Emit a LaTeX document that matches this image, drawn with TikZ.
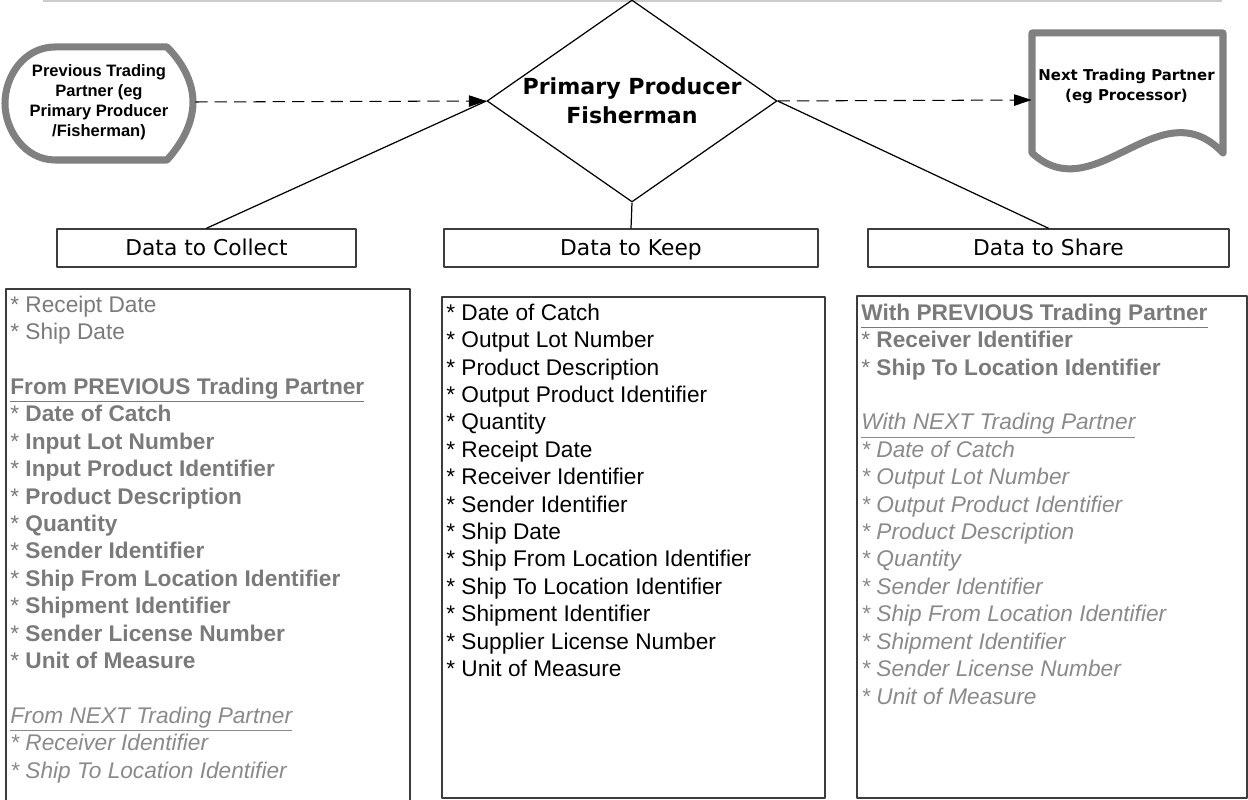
\documentclass[tikz,border=0pt]{standalone}
\usepackage{fontspec}
\setmainfont{Liberation Sans}
\newfontfamily\visiofont{DejaVu Sans}
\usetikzlibrary{shapes.geometric,arrows.meta}
\definecolor{framegray}{RGB}{128,128,128}
\definecolor{listgray}{RGB}{122,122,122}
\definecolor{lightlist}{RGB}{138,138,138}
\definecolor{boxline}{RGB}{60,60,60}
\newcommand{\listhead}[1]{\underline{#1}}

\begin{document}
\begin{tikzpicture}[inner sep=0pt, line join=round]
	\tikzstyle {Frame}  = [draw=framegray, line width=4pt]
	\tikzstyle {Head}   = [shape=rectangle, draw=boxline, line width=0.8pt, minimum height=0.76cm, text height=9.5pt, text depth=1.5pt, font=\visiofont\fontsize{12.4}{14}\selectfont]
	\tikzstyle {List}   = [shape=rectangle, draw=boxline, line width=0.9pt, anchor=north west]
	\tikzstyle {Items}  = [anchor=north west, align=left, font=\fontsize{12.9}{15.6}\selectfont]
	\tikzstyle {Flow}   = [dash pattern=on 7pt off 4pt, line width=0.6pt, -{Triangle[length=10pt,width=6.5pt]}]
	\tikzstyle {Link}   = [line width=0.7pt]

	\useasboundingbox (0,0) rectangle (24.96,16);
	\draw[draw=black!20, line width=0.6pt] (0.86,15.98) -- (24.44,15.98);

	% Primary producer
	\node[shape=diamond, aspect=1.44, draw, Link, minimum width=5.8cm, minimum height=4.04cm, align=center,
	      font=\visiofont\bfseries\fontsize{12.6}{16.5}\selectfont] (Producer) at (12.64,13.98) {Primary Producer\\Fisherman};

	% previous trading partner
	\draw[Frame] (1.1,15.06) -- (3.34,15.06) .. controls (3.7,14.7) and (3.86,14.3) .. (3.86,13.96)
	      .. controls (3.86,13.6) and (3.7,13.2) .. (3.34,12.8) -- (1.1,12.8)
	      .. controls (0.5,12.8) and (0.1,13.4) .. (0.1,13.93) .. controls (0.1,14.5) and (0.5,15.06) .. cycle;
	\node[minimum width=3.84cm, align=center, font=\bfseries\fontsize{9.4}{11.4}\selectfont] (Partner-prev) at (1.98,13.96)
	      {Previous Trading\\Partner (eg\\Primary Producer\\/Fisherman)};

	% next trading partner
	\draw[Frame] (20.64,12.94) -- (20.64,15.34) -- (24.46,15.34) -- (24.46,12.94)
	      .. controls (23.2,14.28) and (21.9,11.78) .. (20.64,12.94) -- cycle;
	\node[minimum width=3.82cm, minimum height=2.7cm] (Partner-next) at (22.55,14.0) {};
	\node[align=center, font=\visiofont\bfseries\fontsize{8.5}{11.4}\selectfont] (next-text) at (22.53,14.28)
	      {Next Trading Partner\\(eg Processor)};

	\draw[Flow] (Partner-prev.east) -- (Producer.west);
	\draw[Flow] (Producer.east) -- (Partner-next.west);

	% headers
	\node[Head, minimum width=5.98cm] (Head-1) at (4.13,11.04) {Data to Collect};
	\node[Head, minimum width=7.48cm] (Head-2) at (12.62,11.04) {Data to Keep};
	\node[Head, minimum width=7.22cm] (Head-3) at (20.97,11.04) {Data to Share};

	\draw[Link] (Producer.west) -- (Head-1.north);
	\draw[Link] (Producer.south) -- (Head-2.north);
	\draw[Link] (Producer.east) -- (Head-3.north);

	% lists
	\node[List, minimum width=8.08cm, minimum height=10.4cm] (List-1) at (0.1,10.24) {};
	\node[List, minimum width=7.66cm, minimum height=10.02cm] (List-2) at (8.82,10.08) {};
	\node[List, minimum width=7.8cm, minimum height=10.04cm] (List-3) at (17.12,10.1) {};

	\node[Items, text=listgray] (Items-1) at ([xshift=0.1cm, yshift=-0.15cm]List-1.north west) {%
		* Receipt Date\\
		* Ship Date\\
		\mbox{}\\
		\textbf{\listhead{From PREVIOUS Trading Partner}}\\
		* \textbf{Date of Catch}\\
		* \textbf{Input Lot Number}\\
		* \textbf{Input Product Identifier}\\
		* \textbf{Product Description}\\
		* \textbf{Quantity}\\
		* \textbf{Sender Identifier}\\
		* \textbf{Ship From Location Identifier}\\
		* \textbf{Shipment Identifier}\\
		* \textbf{Sender License Number}\\
		* \textbf{Unit of Measure}\\
		\mbox{}\\
		{\color{lightlist}\textit{\listhead{From NEXT Trading Partner}}}\\
		{\color{lightlist}\textit{* Receiver Identifier}}\\
		{\color{lightlist}\textit{* Ship To Location Identifier}}};

	\node[Items] (Items-2) at ([xshift=0.1cm, yshift=-0.15cm]List-2.north west) {%
		* Date of Catch\\
		* Output Lot Number\\
		* Product Description\\
		* Output Product Identifier\\
		* Quantity\\
		* Receipt Date\\
		* Receiver Identifier\\
		* Sender Identifier\\
		* Ship Date\\
		* Ship From Location Identifier\\
		* Ship To Location Identifier\\
		* Shipment Identifier\\
		* Supplier License Number\\
		* Unit of Measure};

	\node[Items, text=listgray] (Items-3) at ([xshift=0.1cm, yshift=-0.17cm]List-3.north west) {%
		\textbf{\listhead{With PREVIOUS Trading Partner}}\\
		* \textbf{Receiver Identifier}\\
		* \textbf{Ship To Location Identifier}\\
		\mbox{}\\
		{\color{lightlist}\textit{\listhead{With NEXT Trading Partner}}}\\
		{\color{lightlist}\textit{* Date of Catch}}\\
		{\color{lightlist}\textit{* Output Lot Number}}\\
		{\color{lightlist}\textit{* Output Product Identifier}}\\
		{\color{lightlist}\textit{* Product Description}}\\
		{\color{lightlist}\textit{* Quantity}}\\
		{\color{lightlist}\textit{* Sender Identifier}}\\
		{\color{lightlist}\textit{* Ship From Location Identifier}}\\
		{\color{lightlist}\textit{* Shipment Identifier}}\\
		{\color{lightlist}\textit{* Sender License Number}}\\
		{\color{lightlist}\textit{* Unit of Measure}}};
\end{tikzpicture}
\end{document}
